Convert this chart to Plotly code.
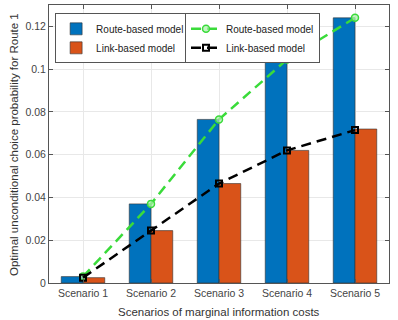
import plotly.graph_objects as go

scenarios = ["Scenario 1", "Scenario 2", "Scenario 3", "Scenario 4", "Scenario 5"]
route_bar = [0.003, 0.037, 0.0765, 0.1045, 0.124]
link_bar = [0.0025, 0.0245, 0.0465, 0.062, 0.072]
route_line = [0.003, 0.037, 0.0765, 0.1045, 0.124]
link_line = [0.0025, 0.0245, 0.0465, 0.062, 0.0715]
yticks = [0, 0.02, 0.04, 0.06, 0.08, 0.1, 0.12]
ytick_text = ["0", "0.02", "0.04", "0.06", "0.08", "0.1", "0.12"]
x_title = "Scenarios of marginal information costs"
y_title = "Optimal unconditional choice probability for Route 1"

font = "Liberation Sans, Arial, sans-serif"
fig = go.Figure()
fig.add_trace(go.Bar(x=scenarios, y=route_bar, name="Route-based model",
                     marker=dict(color="#0072BD", line=dict(color="#333333", width=0.6)),
                     legend="legend"))
fig.add_trace(go.Bar(x=scenarios, y=link_bar, name="Link-based model",
                     marker=dict(color="#D95319", line=dict(color="#333333", width=0.6)),
                     legend="legend"))
fig.add_trace(go.Scatter(x=scenarios, y=route_line, name="Route-based model", mode="lines+markers",
                         line=dict(color="#3ADB3A", width=2.5, dash="10px,6px"),
                         marker=dict(symbol="circle", size=7, color="rgba(170,240,170,0.7)",
                                     line=dict(color="#3ADB3A", width=1.5)),
                         legend="legend2"))
fig.add_trace(go.Scatter(x=scenarios, y=link_line, name="Link-based model", mode="lines+markers",
                         line=dict(color="black", width=2.5, dash="10px,6px"),
                         marker=dict(symbol="square-open", size=6, color="black",
                                     line=dict(color="black", width=2)),
                         legend="legend2"))

leg = dict(xanchor="left", yanchor="top", y=0.97,
           bgcolor="white", bordercolor="#555555", borderwidth=1,
           font=dict(size=10, color="#222222"), tracegroupgap=0, itemwidth=30)
fig.update_layout(
    width=398, height=320,
    margin=dict(l=49, r=9, t=5, b=37),
    paper_bgcolor="white", plot_bgcolor="white",
    barmode="group", bargap=0.36, bargroupgap=0,
    font=dict(family=font, size=11, color="#444444"),
    legend=dict(leg, x=0.018),
    legend2=dict(leg, x=0.40),
    xaxis=dict(automargin=False,
               showline=True, linecolor="#555555", mirror="ticks", ticks="inside", ticklen=4,
               tickcolor="#555555", showgrid=True, gridcolor="#e8e8e8",
               tickfont=dict(size=10.5, color="#444444")),
    yaxis=dict(automargin=False,
               range=[0, 0.13], tickvals=yticks, ticktext=ytick_text,
               showline=True, linecolor="#555555", mirror="ticks", ticks="inside", ticklen=4,
               tickcolor="#555555", showgrid=True, gridcolor="#e8e8e8", zeroline=False,
               tickfont=dict(size=10.5, color="#444444")),
    annotations=[
        dict(text=x_title, xref="paper", yref="paper", x=0.5, y=-0.105, xanchor="center",
             yanchor="middle", showarrow=False, font=dict(size=11.5, color="#333333")),
        dict(text=y_title, xref="paper", yref="paper", x=-0.103, y=0.5, xanchor="center",
             yanchor="middle", textangle=-90, showarrow=False, font=dict(size=11.5, color="#333333")),
    ],
)
fig.write_html("out.html", config={"displayModeBar": False},
               post_script="document.body.style.margin='0';")
